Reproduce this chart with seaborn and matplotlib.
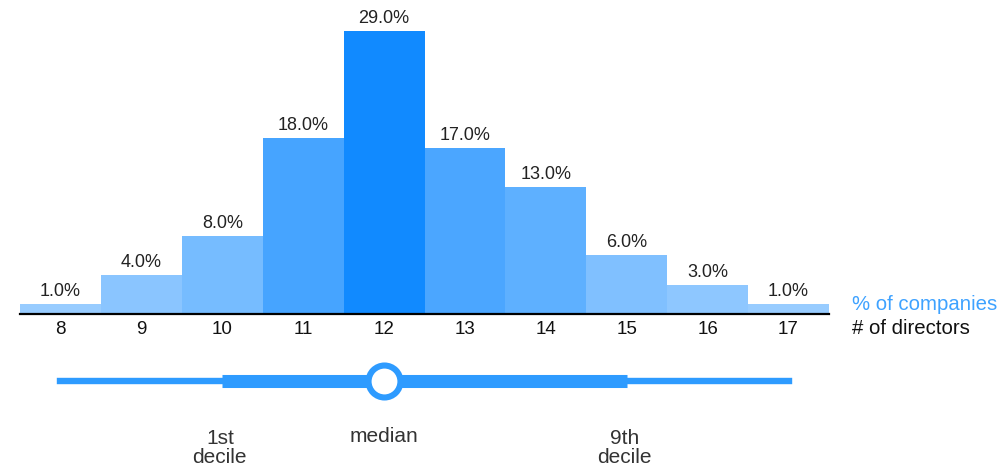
import numpy as np
import matplotlib
matplotlib.use("Agg")
import matplotlib.pyplot as plt
import matplotlib.colors as mcolors
import seaborn as sns

# Board size distribution
directors = ["8", "9", "10", "11", "12", "13", "14", "15", "16", "17"]
share = [1.0, 4.0, 8.0, 18.0, 29.0, 17.0, 13.0, 6.0, 3.0, 1.0]

# Summary of the distribution (number of directors)
dist_min, dist_max = 8, 17
decile_1, decile_9 = 10, 15
median = 12

sns.set_theme(style="white")
plt.rcParams["font.family"] = ["Liberation Sans", "DejaVu Sans"]

W, H = 1005, 470
fig = plt.figure(figsize=(W / 100, H / 100), dpi=100)

# shade each bar by its value: light for small shares, saturated for large
light = np.array(mcolors.to_rgb("#98ccff"))
dark = np.array(mcolors.to_rgb("#118aff"))
vals = np.array(share)
t = (vals - vals.min()) / (vals.max() - vals.min())
palette = {d: mcolors.to_hex(light + (dark - light) * ti) for d, ti in zip(directors, t)}

left, right = 20, 829
base = 314
ax = fig.add_axes([left / W, 1 - base / H, (right - left) / W, base / H])
sns.barplot(x=directors, y=share, hue=directors, palette=palette, order=directors,
            width=1.0, saturation=1, legend=False, linewidth=0, ax=ax)
ax.set_xlim(-0.5, len(directors) - 0.5)
ax.set_ylim(0, base / 283 * max(share))
for c in ax.containers:
    ax.bar_label(c, fmt="%.1f%%", padding=3, fontsize=13, color="#222222")
sns.despine(ax=ax, left=True, top=True, right=True)
ax.spines["bottom"].set_color("black")
ax.spines["bottom"].set_linewidth(1.6)
ax.set_yticks([])
ax.set_ylabel("")
ax.set_xlabel("")
ax.tick_params(axis="x", length=0, pad=5, labelsize=13.5, labelcolor="#111111")

fig.text(852 / W, 1 - 305 / H, "% of companies", fontsize=14.7, color="#3ea2ff",
         ha="left", va="center")
fig.text(852 / W, 1 - 329 / H, "# of directors", fontsize=14.7, color="#111111",
         ha="left", va="center")

# distribution summary strip below the bars
ax2 = fig.add_axes([left / W, 0, (right - left) / W, (H - base) / H])
ax2.set_xlim(7.5, 17.5)
ax2.set_ylim(H, base)
ax2.axis("off")
strip = "#2e9bff"
y0 = 381
ax2.plot([dist_min, dist_max], [y0, y0], color=strip, lw=4.6, solid_capstyle="projecting")
ax2.plot([decile_1, decile_9], [y0, y0], color=strip, lw=9.4, solid_capstyle="butt")
ax2.plot([median], [y0], marker="o", ms=23, mew=4.4, mfc="white", mec=strip)

txt = dict(fontsize=15, color="#333333", ha="center", va="center", linespacing=1.05)
ax2.text(decile_1 - 0.03, 448, "1st\ndecile", **txt)
ax2.text(median, 436, "median", **txt)
ax2.text(decile_9 - 0.03, 448, "9th\ndecile", **txt)

fig.savefig("out.png", dpi=100)
